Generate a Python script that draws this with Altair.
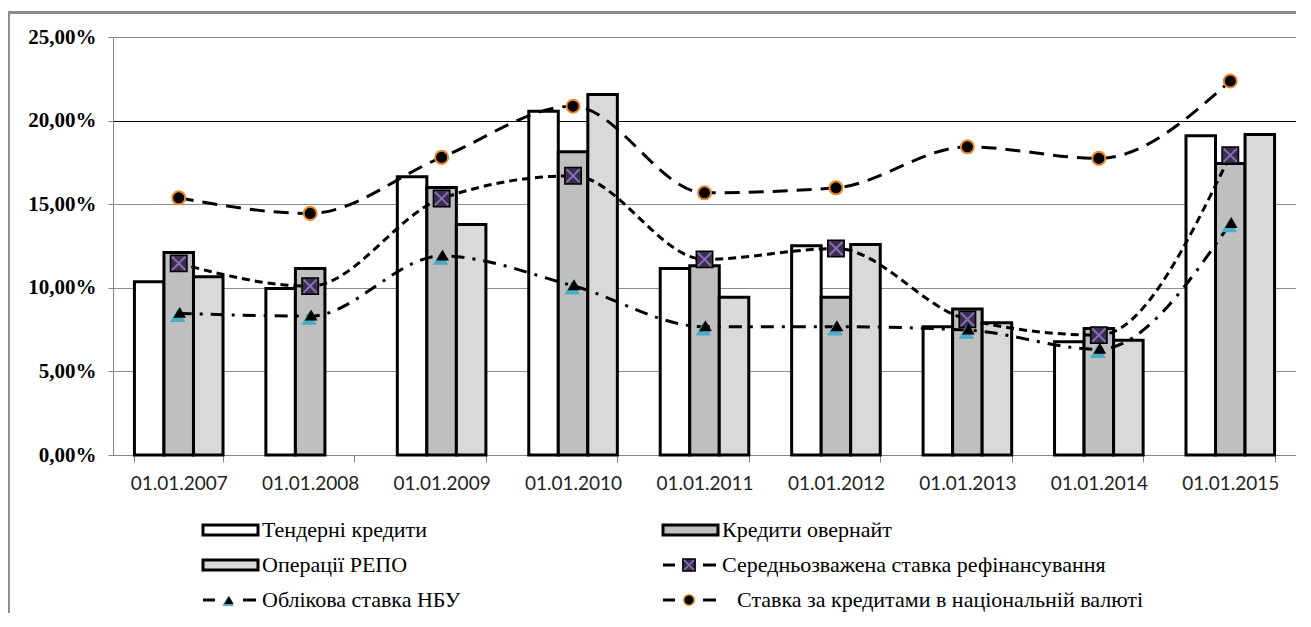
import altair as alt
import pandas as pd

dates = ["01.01.2007", "01.01.2008", "01.01.2009", "01.01.2010", "01.01.2011",
         "01.01.2012", "01.01.2013", "01.01.2014", "01.01.2015"]
tender = [10.36, 9.96, 16.64, 20.56, 11.16, 12.51, 7.67, 6.77, 19.09]
overnight = [12.11, 11.16, 16.00, 18.13, 11.32, 9.43, 8.73, 7.57, 17.43]
repo = [10.66, None, 13.79, 21.56, 9.43, 12.59, 7.91, 6.87, 19.17]
refin = [11.46, 10.10, 15.34, 16.70, 11.70, 12.35, 8.11, 7.17, 17.93]
discount = [8.47, 8.31, 11.90, 10.12, 7.67, 7.67, 7.47, 6.32, 13.85]
national = [15.38, 14.45, 17.80, 20.86, 15.68, 15.98, 18.43, 17.74, 22.37]

bar_names = ["Тендерні кредити", "Кредити овернайт", "Операції РЕПО"]
line_names = ["Середньозважена ставка рефінансування", "Облікова ставка НБУ",
              "Ставка за кредитами в національній валюті"]
bar_colors = ["#ffffff", "#bfbfbf", "#d9d9d9"]
y_ticks = [0, 0.05, 0.10, 0.15, 0.20, 0.25]

SERIF = "Liberation Serif"
W, H = 1183, 418
PAD = {"left": 105, "top": 29, "right": 0, "bottom": 158}

# ---- tables ----
bar_rows = []
for name, vals in zip(bar_names, [tender, overnight, repo]):
    for d, v in zip(dates, vals):
        if v is not None:
            bar_rows.append({"date": d, "series": name, "value": v / 100})
df_bars = pd.DataFrame(bar_rows)

line_rows = []
for name, vals in zip(line_names, [refin, discount, national]):
    for d, v in zip(dates, vals):
        line_rows.append({"date": d, "series": name, "value": v / 100})
df_lines = pd.DataFrame(line_rows)

legend_items = [
    (bar_names[0], "bar", 0, 0),
    (bar_names[1], "bar", 1, 0),
    (bar_names[2], "bar", 0, 1),
    (line_names[0], "refin", 1, 1),
    (line_names[1], "disc", 0, 2),
    (line_names[2], "nat", 1, 2),
]
df_leg = pd.DataFrame([{"series": n, "kind": k, "col": c, "row": r} for n, k, c, r in legend_items])

# ---- main chart ----
xscale = alt.Scale(domain=dates, paddingInner=0.326, paddingOuter=0.163)
yscale = alt.Scale(domain=[0, 0.25], nice=False)
fillscale = alt.Scale(domain=bar_names, range=bar_colors)

x_axis = alt.Axis(title=None, labelAngle=0, labelFont="Lato", labelFontSize=19,
                  labelColor="#222222", tickBand="extent", tickSize=7,
                  tickColor="#868686", domainColor="#868686", labelPadding=12,
                  grid=False)
y_axis = alt.Axis(title=None, values=y_ticks,
                  labelExpr="replace(format(datum.value, '.2%'), '.', ',')",
                  labelFont=SERIF, labelFontWeight="bold",
                  labelFontSize=21, labelColor="black", tickSize=5,
                  tickColor="#868686", domainColor="#868686", labelPadding=12,
                  gridColor=alt.condition("datum.value === 0.2", alt.value("#000000"), alt.value("#8c8c8c")),
                  gridWidth=1)

base_bar = alt.Chart(df_bars).encode(
    x=alt.X("date:N", scale=xscale, axis=x_axis, sort=dates),
    xOffset=alt.XOffset("series:N", scale=alt.Scale(domain=bar_names, paddingInner=0, paddingOuter=0)),
    y=alt.Y("value:Q", scale=yscale, axis=y_axis),
)
shadow = base_bar.mark_bar(fill="#000000", opacity=0.15, xOffset=5)
bars = base_bar.mark_bar(stroke="black", strokeWidth=3).encode(
    fill=alt.Fill("series:N", scale=fillscale, legend=None)
)

def line_base(name):
    return alt.Chart(df_lines).transform_filter(alt.datum.series == name).encode(
        x=alt.X("date:N", scale=xscale, sort=dates),
        y=alt.Y("value:Q", scale=yscale),
    )

INTERP = "monotone"
l_ref = line_base(line_names[0]).mark_line(interpolate=INTERP, color="black",
                                           strokeWidth=3, strokeDash=[8, 5])
l_disc = line_base(line_names[1]).mark_line(interpolate=INTERP, color="black",
                                            strokeWidth=3, strokeDash=[13, 8, 3, 8])
l_nat = line_base(line_names[2]).mark_line(interpolate=INTERP, color="black",
                                           strokeWidth=3, strokeDash=[15, 9])

xshape = "M-0.8,-0.8L0.8,0.8M0.8,-0.8L-0.8,0.8"
p_ref_sq = line_base(line_names[0]).mark_point(shape="square", filled=True, fill="#3a3046",
                                               stroke="black", strokeWidth=1.5, size=270, opacity=1)
p_ref_x = line_base(line_names[0]).mark_point(shape=xshape, filled=False, stroke="#8a6bbf",
                                              strokeWidth=2, size=270, opacity=1)
p_disc_t = line_base(line_names[1]).mark_point(shape="triangle-up", filled=True, fill="#4bacc6",
                                               size=240, xOffset=-1, yOffset=2, opacity=1)
p_disc_b = line_base(line_names[1]).mark_point(shape="triangle-up", filled=True, fill="black",
                                               size=160, xOffset=1, yOffset=-1, opacity=1)
p_nat = line_base(line_names[2]).mark_point(shape="circle", filled=True, fill="black",
                                            stroke="#e8892e", strokeWidth=2, size=170, opacity=1)

main = alt.layer(shadow, bars, l_ref, l_disc, l_nat, p_ref_sq, p_ref_x, p_disc_t, p_disc_b, p_nat)

# ---- legend ----
lx = alt.Scale(domain=[0, 1], range=[90, 550])
ly = alt.Scale(domain=[0, 2], range=[493, 563])
leg = alt.Chart(df_leg).encode(
    x=alt.X("col:Q", scale=lx, axis=None),
    y=alt.Y("row:Q", scale=ly, axis=None),
)

def kind(k):
    return leg.transform_filter(alt.datum.kind == k)

leg_rect = kind("bar").mark_rect(x2Offset=55, yOffset=-5, y2Offset=5, stroke="black",
                                 strokeWidth=3).encode(
    x2="col:Q", y2="row:Q", fill=alt.Fill("series:N", scale=fillscale, legend=None))

leg_layers = [leg_rect]
for k in ["refin", "disc", "nat"]:
    leg_layers.append(kind(k).mark_rule(xOffset=0, x2Offset=12, color="black", strokeWidth=3).encode(x2="col:Q"))
    leg_layers.append(kind(k).mark_rule(xOffset=40, x2Offset=53, color="black", strokeWidth=3).encode(x2="col:Q"))

leg_layers.append(kind("refin").mark_point(shape="square", filled=True, fill="#3a3046", stroke="black",
                                           strokeWidth=1.5, size=150, xOffset=26, opacity=1))
leg_layers.append(kind("refin").mark_point(shape=xshape, filled=False, stroke="#8a6bbf", strokeWidth=1.5,
                                           size=150, xOffset=26, opacity=1))
leg_layers.append(kind("disc").mark_point(shape="triangle-up", filled=True, fill="#4bacc6", size=130,
                                          xOffset=25, yOffset=1, opacity=1))
leg_layers.append(kind("disc").mark_point(shape="triangle-up", filled=True, fill="black", size=85,
                                          xOffset=26, yOffset=0, opacity=1))
leg_layers.append(kind("nat").mark_point(shape="circle", filled=True, fill="black", stroke="#e8892e",
                                         strokeWidth=1.5, size=110, xOffset=26, opacity=1))

leg_text = leg.transform_filter(alt.datum.kind != "nat").mark_text(
    align="left", baseline="middle", dx=59, font=SERIF, fontSize=22, color="black"
).encode(text="series:N")
leg_text2 = kind("nat").mark_text(
    align="left", baseline="middle", dx=74, font=SERIF, fontSize=22, color="black"
).encode(text="series:N")
leg_layers += [leg_text, leg_text2]

legend = alt.layer(*leg_layers)

# outer frame: top and left border only; kept inside the drawing so the page does not scroll
frame_df = pd.DataFrame({"a": [0]})
frame_top = alt.Chart(frame_df).mark_rect(fill="#8c8c8c").encode(
    x=alt.value(-PAD["left"]), x2=alt.value(W + PAD["right"]), y=alt.value(-26), y2=alt.value(-23))
frame_left = alt.Chart(frame_df).mark_rect(fill="#8c8c8c").encode(
    x=alt.value(-PAD["left"]), x2=alt.value(-PAD["left"] + 2), y=alt.value(-26), y2=alt.value(H + PAD["bottom"]))

chart = alt.layer(frame_top, frame_left, main, legend).resolve_scale(
    x="independent", y="independent"
).properties(
    width=W, height=H,
    autosize=alt.AutoSizeParams(type="none"),
    padding=PAD,
).configure_view(stroke=None)

chart.save("out.html", embed_options={"renderer": "svg", "actions": False})
